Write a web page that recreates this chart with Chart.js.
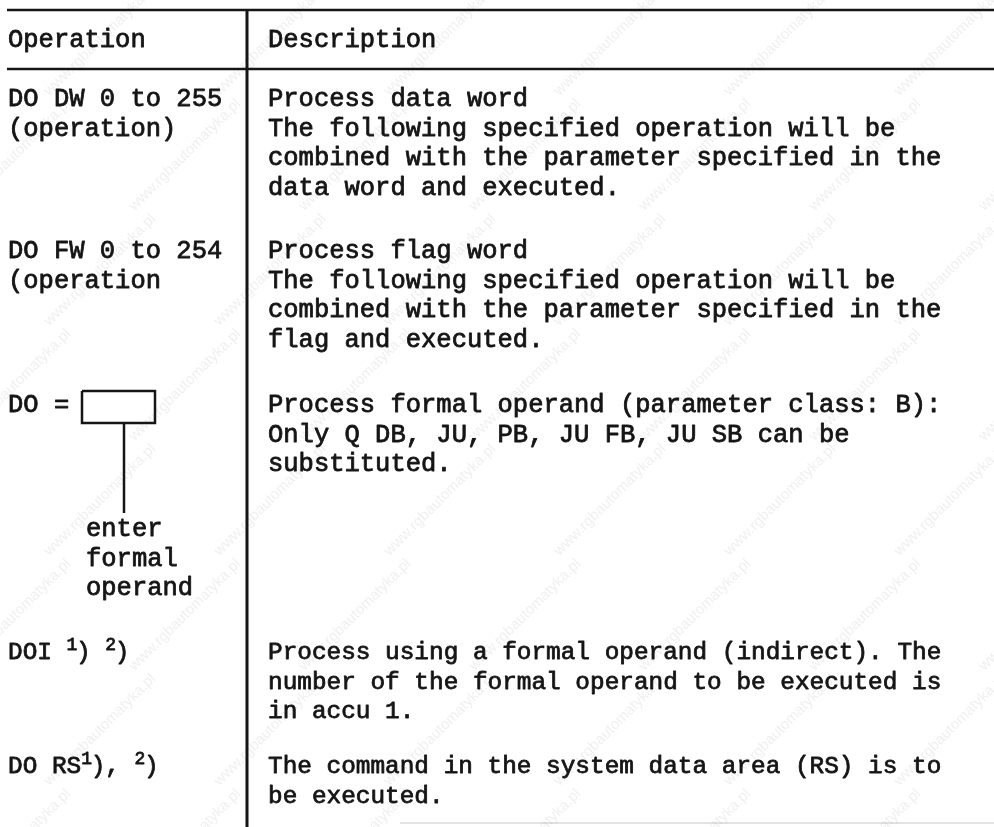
<!DOCTYPE html>
<html>
<head>
<meta charset="utf-8">
<title>DO operations</title>
<script src="https://cdn.jsdelivr.net/npm/chart.js@4.4.1/dist/chart.umd.min.js"></script>
<style>
    html, body { margin: 0; padding: 0; background: #fff; }
    #wrap { width: 994px; height: 827px; position: relative; }
</style>
</head>
<body>
<div id="wrap"><canvas id="js--table"></canvas></div>
<script>
// table content
const headers = ['Operation', 'Description'];

// "^1" marks a raised footnote digit
const operations = [
    ['DO DW 0 to 255', '(operation)'],
    ['DO FW 0 to 254', '(operation'],
    ['DO ='],
    ['DOI ^1) ^2)'],
    ['DO RS^1), ^2)']
];

const formalNote = ['enter', 'formal', 'operand'];

const descriptions = [
    ['Process data word',
     'The following specified operation will be',
     'combined with the parameter specified in the',
     'data word and executed.'],
    ['Process flag word',
     'The following specified operation will be',
     'combined with the parameter specified in the',
     'flag and executed.'],
    ['Process formal operand (parameter class: B):',
     'Only Q DB, JU, PB, JU FB, JU SB can be',
     'substituted.'],
    ['Process using a formal operand (indirect). The',
     'number of the formal operand to be executed is',
     'in accu 1.'],
    ['The command in the system data area (RS) is to',
     'be executed.']
];

const watermark = 'www.rgbautomatyka.pl';

// layout (page pixels, y down)
const layout = {
    width: 994, height: 827,
    colOp: 8, colDesc: 268, noteX: 86,
    headerY: 47,
    rowY: [106, 258, 412, 659, 773],
    rowSize: [25.5, 25.5, 25.5, 24.4, 24.4],   // last two rows were typed at a narrower pitch
    noteY: 536,
    lineStep: 29.6
};

const ink = '#151515';

function monoFont(size) {
    return size + 'px "Liberation Mono", "DejaVu Sans Mono", monospace';
}

function line(points, width, color) {
    return {
        data: points.map(p => ({x: p[0], y: p[1]})),
        showLine: true,
        borderColor: color || ink,
        borderWidth: width,
        pointRadius: 0,
        fill: false,
        tension: 0,
        clip: false
    };
}

// typewriter look: regular glyphs with a thin outline
function inked(ctx, t, px, py) {
    ctx.fillText(t, px, py);
    ctx.strokeText(t, px, py);
}

function drawRich(ctx, str, px, py, size) {
    const parts = str.split(/\^(\d)/);
    parts.forEach((part, i) => {
        if (i % 2 === 1) {
            ctx.font = monoFont(Math.round(size * 0.72));
            inked(ctx, part, px, py - 9);
            px += 9.5;
        } else if (part.length) {
            ctx.font = monoFont(size);
            inked(ctx, part, px, py);
            px += ctx.measureText(part).width;
        }
    });
}

const watermarkPlugin = {
    id: 'watermark',
    beforeDatasetsDraw(chart) {
        const {ctx, scales: {x, y}} = chart;
        ctx.save();
        ctx.fillStyle = 'rgba(120,120,120,0.12)';
        ctx.font = '15px "Liberation Sans", Arial, sans-serif';
        ctx.textAlign = 'center';
        ctx.textBaseline = 'middle';
        for (let j = 0; j < 8; j++) {
            for (let i = -1; i < 7; i++) {
                const cx = 100 + i * 170 + (j % 2) * 85;
                const cy = 40 + j * 115;
                ctx.save();
                ctx.translate(x.getPixelForValue(cx), y.getPixelForValue(cy));
                ctx.rotate(-Math.PI / 4);
                ctx.fillText(watermark, 0, 0);
                ctx.restore();
            }
        }
        ctx.restore();
    }
};

const textPlugin = {
    id: 'tableText',
    afterDatasetsDraw(chart) {
        const {ctx, scales: {x, y}} = chart;
        ctx.save();
        ctx.fillStyle = ink;
        ctx.strokeStyle = ink;
        ctx.lineWidth = 0.8;
        ctx.lineJoin = 'round';
        ctx.textAlign = 'left';
        ctx.textBaseline = 'alphabetic';

        ctx.font = monoFont(25.5);
        inked(ctx, headers[0], x.getPixelForValue(layout.colOp), y.getPixelForValue(layout.headerY));
        inked(ctx, headers[1], x.getPixelForValue(layout.colDesc), y.getPixelForValue(layout.headerY));

        operations.forEach((lines, r) => {
            lines.forEach((t, k) => {
                drawRich(ctx, t, x.getPixelForValue(layout.colOp),
                    y.getPixelForValue(layout.rowY[r] + k * layout.lineStep), layout.rowSize[r]);
            });
        });

        ctx.font = monoFont(25.5);
        formalNote.forEach((t, k) => {
            inked(ctx, t, x.getPixelForValue(layout.noteX),
                y.getPixelForValue(layout.noteY + k * layout.lineStep));
        });

        descriptions.forEach((lines, r) => {
            ctx.font = monoFont(layout.rowSize[r]);
            lines.forEach((t, k) => {
                inked(ctx, t, x.getPixelForValue(layout.colDesc),
                    y.getPixelForValue(layout.rowY[r] + k * layout.lineStep));
            });
        });
        ctx.restore();
    }
};

const config = {
    type: 'scatter',
    data: {
        datasets: [
            line([[7, 10], [994, 10]], 2.5),
            line([[7, 69], [994, 69]], 2.5),
            line([[247, 10], [247, 827]], 3),
            line([[82, 391], [155, 391], [155, 423], [82, 423], [82, 391]], 2.5),
            line([[124, 423], [124, 513]], 2.5),
            line([[400, 823], [994, 823]], 1.5, 'rgba(0,0,0,0.15)')
        ]
    },
    options: {
        responsive: true,
        maintainAspectRatio: false,
        animation: false,
        devicePixelRatio: 1,
        layout: { padding: 0 },
        events: [],
        scales: {
            x: { type: 'linear', min: 0, max: layout.width, display: false },
            y: { type: 'linear', min: 0, max: layout.height, reverse: true, display: false }
        },
        plugins: {
            legend: { display: false },
            tooltip: { enabled: false }
        }
    },
    plugins: [watermarkPlugin, textPlugin]
};

new Chart(document.getElementById('js--table'), config);
</script>
</body>
</html>
